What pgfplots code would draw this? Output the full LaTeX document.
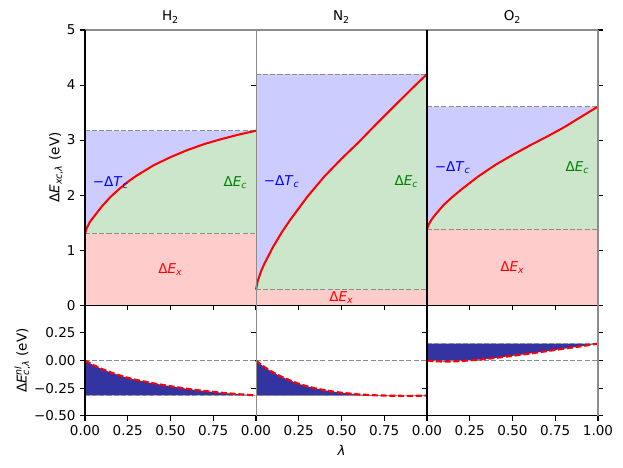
\documentclass[border=0pt]{standalone}
\usepackage{fontspec}
\setmainfont{DejaVu Sans}
\usepackage{pgfplots}
\pgfplotsset{compat=1.18}
\usepackage{pgfplotstable}
\usepgfplotslibrary{fillbetween}

\definecolor{fx}{RGB}{255,204,204}
\definecolor{fc}{RGB}{204,230,204}
\definecolor{ft}{RGB}{204,204,255}
\definecolor{nlfill}{RGB}{51,51,162}
\definecolor{sg}{RGB}{140,140,140}
\definecolor{mgreen}{RGB}{0,128,0}

\pgfplotstableread{
l E
0    1.30
0.01 1.40
0.03 1.52
0.05 1.60
0.10 1.80
0.15 1.97
0.20 2.11
0.25 2.24
0.30 2.35
0.40 2.54
0.50 2.69
0.60 2.82
0.70 2.93
0.80 3.02
0.90 3.10
1.00 3.17
}\HtwoTop

\pgfplotstableread{
l E
0    0.28
0.01 0.44
0.03 0.62
0.05 0.76
0.10 1.06
0.15 1.32
0.20 1.55
0.30 1.97
0.40 2.34
0.50 2.66
0.60 2.96
0.70 3.28
0.80 3.59
0.90 3.90
1.00 4.20
}\NtwoTop

\pgfplotstableread{
l E
0    1.38
0.01 1.47
0.03 1.57
0.05 1.65
0.10 1.83
0.15 1.97
0.20 2.10
0.30 2.34
0.40 2.55
0.50 2.73
0.60 2.90
0.70 3.06
0.80 3.23
0.90 3.42
1.00 3.61
}\OtwoTop

\pgfplotstableread{
l E
0    0.000
0.05 -0.042
0.10 -0.077
0.15 -0.107
0.20 -0.133
0.25 -0.156
0.30 -0.175
0.40 -0.206
0.50 -0.232
0.60 -0.256
0.70 -0.275
0.80 -0.291
0.90 -0.304
1.00 -0.315
}\HtwoNl

\pgfplotstableread{
l E
0    0.000
0.03 -0.037
0.06 -0.070
0.10 -0.107
0.15 -0.147
0.20 -0.180
0.25 -0.210
0.30 -0.233
0.35 -0.252
0.40 -0.267
0.45 -0.280
0.50 -0.291
0.60 -0.306
0.70 -0.314
0.80 -0.318
0.90 -0.319
1.00 -0.316
}\NtwoNl

\pgfplotstableread{
l E
0    0.000
0.05 -0.006
0.10 -0.009
0.15 -0.008
0.20 -0.004
0.25 0.002
0.30 0.008
0.40 0.024
0.50 0.043
0.60 0.063
0.70 0.085
0.80 0.107
0.90 0.129
1.00 0.153
}\OtwoNl

\pgfplotsset{
  panel/.style={scale only axis, width=126.48pt, xmin=0, xmax=1, clip=false,
    axis x line*=bottom, axis y line*=left, axis line style={draw=none},
    tick align=outside, major tick length=3.5pt,
    tick style={black, line width=0.8pt},
    xtick={0,0.25,0.5,0.75,1},
    tick label style={font=\fontsize{10}{12}\selectfont},
    label style={font=\fontsize{10}{12}\selectfont},
    title style={font=\fontsize{10}{12}\selectfont, yshift=-4.5pt},
    ylabel shift=-4pt,
    /pgf/number format/assume math mode=true},
  toppanel/.style={panel, height=203.5pt, ymin=0, ymax=5, ytick={0,1,2,3,4,5},
    xticklabels={}},
  botpanel/.style={panel, height=81.9pt, ymin=-0.5, ymax=0.5,
    ytick={-0.5,-0.25,0,0.25}},
  gdash/.style={sg, line width=0.8pt, dash pattern=on 3.7pt off 1.6pt},
  rdash/.style={red, line width=1.6pt, dash pattern=on 4.5pt off 2pt},
}

\newcommand{\toplayer}[3]{% table, Ex, Etop
  \addplot[fill=fx, draw=none] coordinates {(0,0) (1,0) (1,#2) (0,#2)} -- cycle;
  \addplot[name path=lo, gdash] coordinates {(0,#2) (1,#2)};
  \addplot[name path=hi, gdash] coordinates {(0,#3) (1,#3)};
  \addplot[name path=cur, red, line width=1.5pt] table {#1};
  \addplot[fc] fill between[of=cur and lo];
  \addplot[ft] fill between[of=hi and cur];
}
\newcommand{\botlayer}[2]{% table, final
  \addplot[gdash] coordinates {(0,0) (1,0)};
  \addplot[name path=fl, gdash] coordinates {(0,#2) (1,#2)};
  \addplot[name path=nl, rdash] table {#1};
  \addplot[nlfill] fill between[of=nl and fl];
}
\newcommand{\toplabels}[2]{%
  \node[blue] at (axis cs:0.15,{(#1+#2)/2}) {−Δ\textit{T}\textsubscript{\textit{c}}};
  \node[mgreen] at (axis cs:0.88,{(#1+#2)/2}) {Δ\textit{E}\textsubscript{\textit{c}}};
  \node[red] at (axis cs:0.5,{#1/2}) {Δ\textit{E}\textsubscript{\textit{x}}};
}
\newcommand{\spines}[5]{% left color, left width, right color, right width, top color
  \draw[black, line width=0.8pt] (rel axis cs:0,0) -- (rel axis cs:1,0);
  \draw[#5, line width=1pt] (rel axis cs:0,1) -- (rel axis cs:1,1);
  \draw[#3, line width=#4] (rel axis cs:1,0) -- (rel axis cs:1,1);
  \draw[#1, line width=#2] (rel axis cs:0,0) -- (rel axis cs:0,1);
}

\begin{document}
\begin{tikzpicture}
\path (0,0) rectangle (460.8pt,345.6pt);

% ---------- top row ----------
\begin{axis}[toppanel, at={(62.87pt,119.89pt)}, anchor=south west,
  title={H\textsubscript{2}},
  ylabel={Δ\textit{E}\textsubscript{\textit{xc},\textit{λ}} (eV)}]
  \toplayer{\HtwoTop}{1.30}{3.17}
  \toplabels{1.30}{3.17}
  \spines{black}{0.8pt}{sg}{0.6pt}{sg}
\end{axis}

\begin{axis}[toppanel, at={(189.35pt,119.89pt)}, anchor=south west,
  title={N\textsubscript{2}}, yticklabels={}]
  \toplayer{\NtwoTop}{0.28}{4.20}
  \toplabels{0.28}{4.20}
  \spines{sg}{0.6pt}{sg}{0.6pt}{sg}
\end{axis}

\begin{axis}[toppanel, at={(315.83pt,119.89pt)}, anchor=south west,
  title={O\textsubscript{2}}, yticklabels={}, axis y line*=box]
  \toplayer{\OtwoTop}{1.38}{3.61}
  \toplabels{1.38}{3.61}
  \spines{black}{0.8pt}{sg}{1.3pt}{sg}
\end{axis}

% ---------- bottom row ----------
\begin{axis}[botpanel, at={(62.87pt,37.96pt)}, anchor=south west,
  xticklabels={0.00,0.25,0.50,0.75,{}},
  yticklabels={−0.50,−0.25,0.00,0.25},
  ylabel={Δ\textit{E}\rlap{\textsuperscript{\textit{nl}}}\textsubscript{\textit{c},\textit{λ}} (eV)}]
  \botlayer{\HtwoNl}{-0.315}
  \spines{black}{0.8pt}{sg}{0.6pt}{black}
\end{axis}

\begin{axis}[botpanel, at={(189.35pt,37.96pt)}, anchor=south west,
  xticklabels={0.00,0.25,0.50,0.75,{}}, yticklabels={},
  xlabel={\textit{λ}}]
  \botlayer{\NtwoNl}{-0.316}
  \spines{sg}{0.6pt}{sg}{0.6pt}{black}
\end{axis}

\begin{axis}[botpanel, at={(315.83pt,37.96pt)}, anchor=south west,
  xticklabels={0.00,0.25,0.50,0.75,1.00}, yticklabels={}, axis y line*=box]
  \botlayer{\OtwoNl}{0.153}
  \spines{black}{0.8pt}{sg}{1.3pt}{black}
\end{axis}
\end{tikzpicture}
\end{document}
